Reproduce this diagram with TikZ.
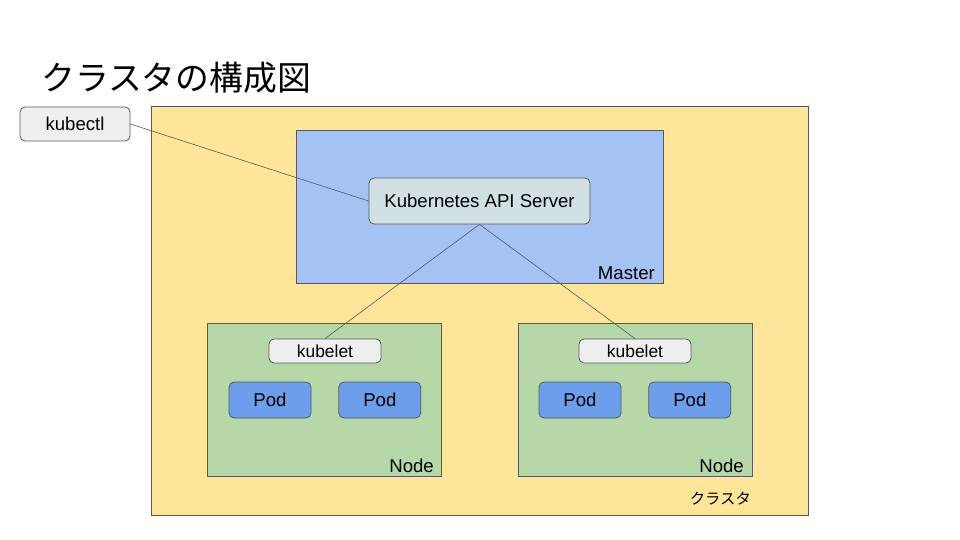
\documentclass[tikz,border=0pt]{standalone}
\usepackage{fontspec}
\setmainfont{Liberation Sans}
\newfontfamily\jpfont{Noto Sans CJK JP}
\usetikzlibrary{positioning,calc}
\definecolor{clusterfill}{HTML}{FFE599}
\definecolor{masterfill}{HTML}{A4C2F4}
\definecolor{nodefill}{HTML}{B6D7A8}
\definecolor{podfill}{HTML}{6D9EEB}
\definecolor{apifill}{HTML}{D0E0E3}
\definecolor{kubefill}{HTML}{EFEFEF}
\definecolor{edgegray}{HTML}{595959}

\begin{document}
\begin{tikzpicture}[
  x=1pt,y=-1pt,
  font=\fontsize{18.6}{22}\selectfont,
  area/.style={draw=edgegray,line width=0.8pt},
  tool/.style={rectangle,rounded corners=5pt,draw=edgegray,line width=0.8pt,fill=kubefill,inner sep=0pt},
  pod/.style={rectangle,rounded corners=5pt,draw=edgegray,line width=0.8pt,fill=podfill,minimum width=82pt,minimum height=36pt,inner sep=0pt},
  tag/.style={anchor=base east,inner sep=0pt},
  link/.style={draw=edgegray,line width=0.6pt}
]
\useasboundingbox (0,0) rectangle (960,540);
\fill[white] (0,0) rectangle (960,540);

% title
\node[anchor=base west,inner sep=0pt] (title) at (41,91) {\jpfont\fontsize{33.8}{38}\selectfont クラスタの構成図};

% cluster and master
\draw[area,fill=clusterfill] (151,106) rectangle (808,515);
\coordinate (clustercorner) at (751,504);
\node[tag] (clusterlabel) at (clustercorner) {\jpfont\fontsize{15.3}{18}\selectfont クラスタ};
\draw[area,fill=masterfill] (296,130) rectangle (663,283);
\node[tag] (masterlabel) at (655,279) {Master};

% nodes
\draw[area,fill=nodefill] (207,323) rectangle (441,476);
\node[tag] (nodelabelA) at (434,472) {Node};
\draw[area,fill=nodefill] (518,323) rectangle (752,476);
\node[tag] (nodelabelB) at (744,472) {Node};

% boxes
\node[tool,minimum width=110pt,minimum height=34pt] (kubectl) at (75,124) {kubectl};
\node[tool,fill=apifill,minimum width=221pt,minimum height=46pt] (api) at (479.5,201) {Kubernetes API Server};
\node[tool,minimum width=112pt,minimum height=24pt,font=\fontsize{17.4}{20}\selectfont] (kubeletA) at (325,351) {kubelet};
\node[tool,minimum width=112pt,minimum height=24pt,font=\fontsize{17.4}{20}\selectfont] (kubeletB) at (635,351) {kubelet};
\node[pod] (podA1) at (270,400) {Pod};
\node[pod,right=27pt of podA1] (podA2) {Pod};
\node[pod] (podB1) at (580,400) {Pod};
\node[pod,right=27pt of podB1] (podB2) {Pod};

% connectors
\draw[link] (kubectl.east) -- (api.west);
\draw[link] (api.south) -- (kubeletA.north);
\draw[link] (api.south) -- (kubeletB.north);
\end{tikzpicture}
\end{document}
